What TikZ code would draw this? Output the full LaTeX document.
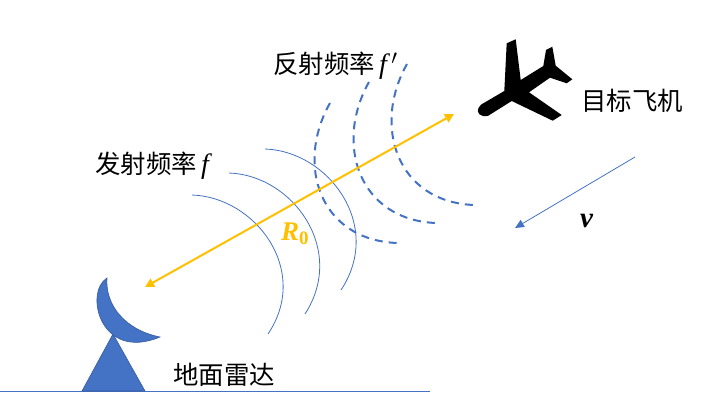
\documentclass[tikz,border=0pt]{standalone}
\usepackage{fontspec}
\setmainfont{Liberation Serif}
\newfontfamily\cjk{Noto Sans CJK SC}
\newcommand{\latinit}[1]{{\rmfamily\itshape\fontsize{28}{28}\selectfont #1}}
\usetikzlibrary{arrows.meta}
\definecolor{pblue}{HTML}{4472C4}
\definecolor{porange}{HTML}{FFC000}
\tikzset{
  thinarc/.style={draw=pblue,line width=0.8pt},
  dasharc/.style={draw=pblue,line width=2pt,dash pattern=on 8pt off 6pt},
  lbl/.style={inner sep=0pt,anchor=west,font=\fontsize{25.4}{27}\selectfont\cjk,text=black},
  solid blue/.style={fill=pblue,draw=pblue!80!black,line width=0.6pt}
}
\begin{document}
\begin{tikzpicture}[x=1pt,y=-1pt]
\useasboundingbox (0,0) rectangle (708,417);
% ground
\coordinate (g1) at (0,391); \coordinate (g2) at (430,391);
\draw[pblue,line width=0.9pt] (g1) -- (g2);
% radar
\filldraw[solid blue] (82,391) -- (113,334) -- (145,391) -- cycle;
\filldraw[solid blue] (107,278) .. controls (84,292) and (100,362) .. (160,337)
   .. controls (125,330) and (105,305) .. (107,278) -- cycle;
% emitted waves
\draw[thinarc] (192,195) .. controls (255,197) and (311,270) .. (268,334);
\draw[thinarc] (229,173) .. controls (292,175) and (347,249) .. (305,314);
\draw[thinarc] (265,149) .. controls (328,151) and (384,225) .. (341,290);
% reflected waves
\draw[dasharc] (330,103) .. controls (295,165) and (320,240) .. (397,243);
\draw[dasharc] (369,82) .. controls (334,144) and (359,220) .. (436,223);
\draw[dasharc] (407,64) .. controls (372,126) and (397,202) .. (474,205);
% range arrow
\coordinate (r1) at (145,287); \coordinate (r2) at (454,114);
\draw[porange,line width=2pt,{Triangle[length=9pt,width=9pt]}-{Triangle[length=9pt,width=9pt]}] (r1) -- (r2);
% plane
\fill[black] (506.7,43.3) -- (515.7,39.3) -- (520.7,80) -- (543.3,66) -- (546,50) -- (552.3,46.7)
  -- (555.7,65.7) -- (572.3,79.3) -- (566.7,83.3) -- (550,77.7) -- (529,92.3) -- (561.7,115)
  -- (552.7,120.7) -- (511.7,101) -- (488.3,115.7)
  .. controls (480,118) and (476,112) .. (478.5,108)
  .. controls (481,104) and (483,103) .. (483.3,103.3) -- (504.3,91) -- cycle;
% velocity
\coordinate (v1) at (635,157); \coordinate (v2) at (515,228);
\draw[pblue,line width=0.8pt,-{Triangle[length=9pt,width=8pt]}] (v1) -- (v2);
% labels
\node[lbl] (t1) at (95,166) {发射频率\,\latinit{f}};
\node[lbl] (t2) at (273,66) {反射频率\,\latinit{f\,$'$}};
\node[lbl] (t3) at (581,101) {目标飞机};
\node[lbl] (t4) at (173,375) {地面雷达};
\node[lbl,font=\fontsize{29}{29}\selectfont\bfseries\itshape] (t5) at (580,221) {v};
\node[lbl,text=porange,font=\fontsize{27}{27}\selectfont\bfseries\itshape] (t6) at (281,234) {R\raisebox{-4pt}{\fontsize{19}{19}\selectfont\upshape 0}};
\end{tikzpicture}
\end{document}
